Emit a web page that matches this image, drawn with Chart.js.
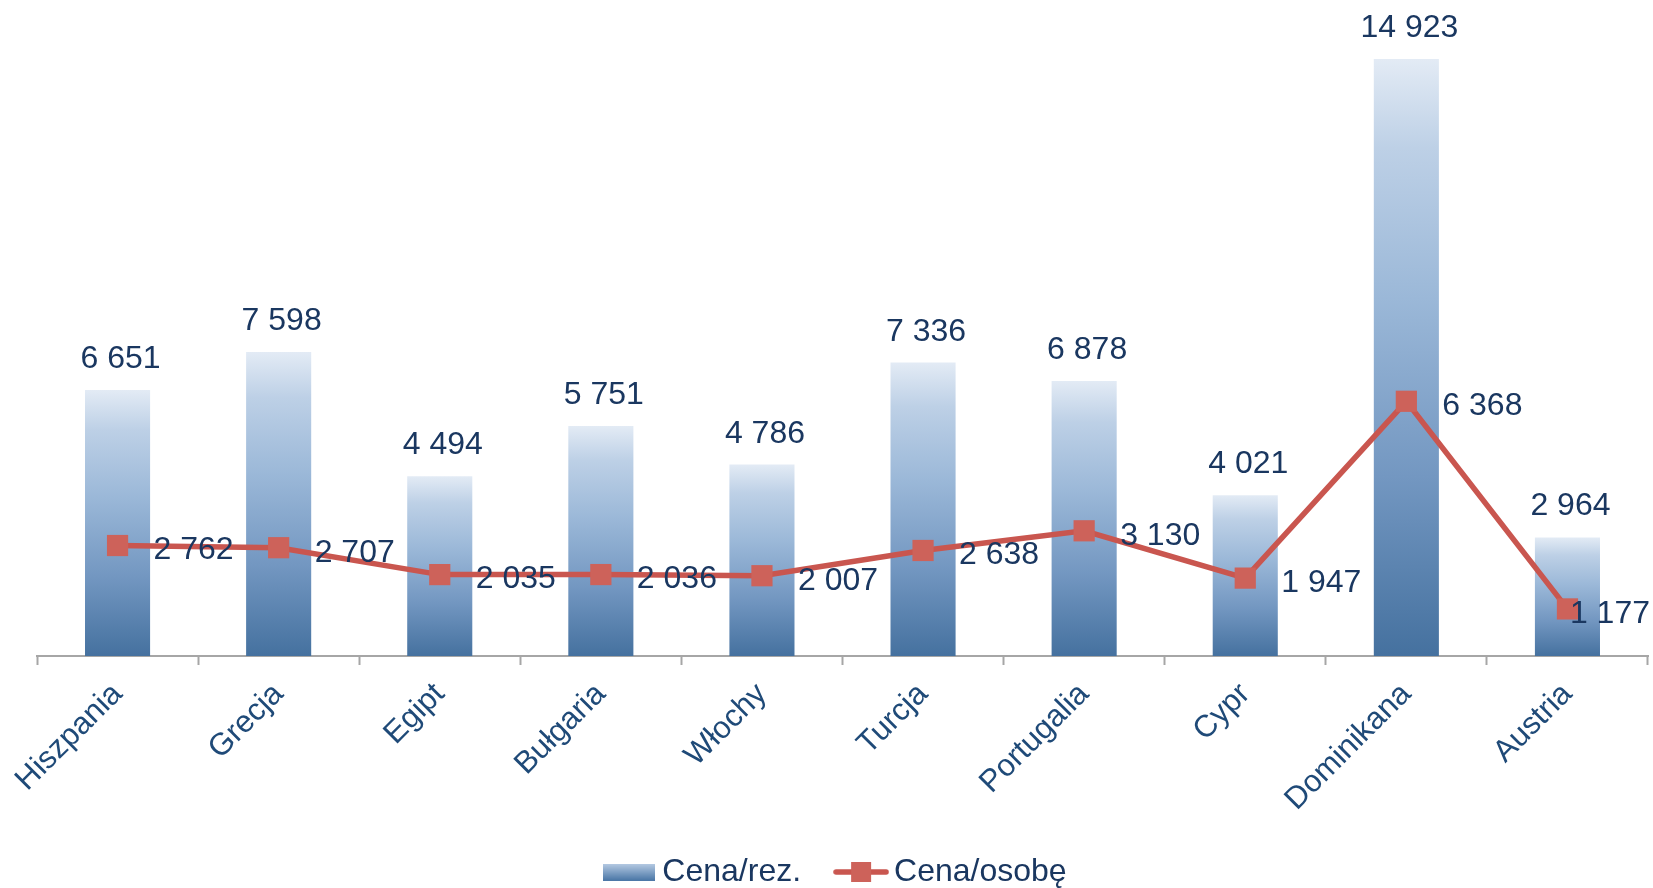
<!DOCTYPE html>
<html>
<head>
<meta charset="utf-8">
<script src="https://cdn.jsdelivr.net/npm/chart.js@4/dist/chart.umd.min.js"></script>
<style>
  html, body { margin: 0; padding: 0; background: #ffffff; }
  #wrap { width: 1653px; height: 888px; position: relative; }
</style>
</head>
<body>
<div id="wrap"><canvas id="c" width="1653" height="888"></canvas></div>
<script>
const categories = ['Hiszpania', 'Grecja', 'Egipt', 'Bułgaria', 'Włochy', 'Turcja', 'Portugalia', 'Cypr', 'Dominikana', 'Austria'];
const cenaRez = [6651, 7598, 4494, 5751, 4786, 7336, 6878, 4021, 14923, 2964];
const cenaOsobe = [2762, 2707, 2035, 2036, 2007, 2638, 3130, 1947, 6368, 1177];
const seriesNames = ['Cena/rez.', 'Cena/osobę'];

const FONT = "'Liberation Sans', Arial, sans-serif";
const LABEL_COLOR = '#1a3760';
const TICK_COLOR = '#1f4a78';
const LINE_COLOR = '#c9564f';
const POINT_COLOR = '#cd625a';
const AXIS_COLOR = '#a6a6a6';

function fmt(v) {
  return String(v).replace(/\B(?=(\d{3})+(?!\d))/g, ' ');
}

function addStops(g) {
  g.addColorStop(0, '#e3ebf5');
  g.addColorStop(0.15, '#bdd0e6');
  g.addColorStop(0.4, '#9bb8d8');
  g.addColorStop(0.7, '#7397c1');
  g.addColorStop(1, '#45719f');
  return g;
}

function barGradient(ctx) {
  const chart = ctx.chart;
  if (!chart.chartArea || ctx.type !== 'data') return '#7f9fc6';
  const y = chart.scales.y;
  const top = y.getPixelForValue(ctx.raw);
  const base = y.getPixelForValue(0);
  return addStops(chart.ctx.createLinearGradient(0, top, 0, base));
}

// legend images
function makeBarIcon() {
  const c = document.createElement('canvas');
  c.width = 52; c.height = 17;
  const x = c.getContext('2d');
  const g = x.createLinearGradient(0, 0, 0, 17);
  g.addColorStop(0, '#b7cbe4');
  g.addColorStop(1, '#4a76a6');
  x.fillStyle = g;
  x.fillRect(0, 0, 52, 17);
  return c;
}
function makeLineIcon() {
  const c = document.createElement('canvas');
  c.width = 56; c.height = 22;
  const x = c.getContext('2d');
  x.strokeStyle = LINE_COLOR;
  x.lineWidth = 5.5;
  x.lineCap = 'round';
  x.beginPath(); x.moveTo(3, 11); x.lineTo(53, 11); x.stroke();
  x.fillStyle = POINT_COLOR;
  x.fillRect(18, 1, 20, 20);
  return c;
}
const barIcon = makeBarIcon();
const lineIcon = makeLineIcon();

const valueLabels = {
  id: 'valueLabels',
  afterLayout(chart) {
    // nudge the legend toward the bottom edge, and let rotated tick labels run below the axis box
    const lg = chart.legend;
    if (lg) { lg.top += 10; lg.bottom += 10; lg.left -= 3; lg.right -= 3; }
    const xs = chart.scales.x;
    if (xs) { xs.bottom += 40; }
  },
  afterDatasetsDraw(chart) {
    const ctx = chart.ctx;
    ctx.save();
    ctx.font = '32px ' + FONT;
    ctx.fillStyle = LABEL_COLOR;
    const m0 = chart.getDatasetMeta(0);
    ctx.textAlign = 'center';
    ctx.textBaseline = 'alphabetic';
    m0.data.forEach((el, i) => {
      ctx.fillText(fmt(cenaRez[i]), el.x + 3, el.y - 22);
    });
    const m1 = chart.getDatasetMeta(1);
    ctx.textAlign = 'left';
    ctx.textBaseline = 'middle';
    m1.data.forEach((el, i) => {
      const t = fmt(cenaOsobe[i]);
      const w = ctx.measureText(t).width;
      let x = el.x + 36;
      if (x + w > chart.width - 3) x = chart.width - 3 - w;
      ctx.fillText(t, x, el.y + 5);
    });
    ctx.restore();
  }
};

new Chart(document.getElementById('c'), {
  type: 'bar',
  data: {
    labels: categories,
    datasets: [
      {
        type: 'bar',
        label: seriesNames[0],
        data: cenaRez,
        backgroundColor: barGradient,
        borderWidth: 0,
        categoryPercentage: 1,
        barPercentage: 0.404,
        order: 2
      },
      {
        type: 'line',
        label: seriesNames[1],
        data: cenaOsobe,
        borderColor: LINE_COLOR,
        borderWidth: 5.5,
        backgroundColor: POINT_COLOR,
        pointStyle: 'rect',
        pointRadius: 15,
        pointHoverRadius: 15,
        pointBackgroundColor: POINT_COLOR,
        pointBorderWidth: 0,
        tension: 0,
        order: 1
      }
    ]
  },
  options: {
    responsive: false,
    animation: false,
    events: [],
    layout: { autoPadding: false, padding: { top: 16, left: 37, right: 5, bottom: 0 } },
    scales: {
      x: {
        offset: true,
        afterFit(scale) {
          scale.paddingLeft = 0;
          scale.paddingRight = 0;
          scale.height = 147;
        },
        grid: {
          offset: true,
          drawOnChartArea: false,
          drawTicks: true,
          tickLength: 9,
          tickWidth: 2,
          tickColor: AXIS_COLOR
        },
        border: { display: true, color: AXIS_COLOR, width: 2 },
        ticks: {
          autoSkip: false,
          maxRotation: 45,
          minRotation: 45,
          padding: 11,
          color: TICK_COLOR,
          font: { family: FONT, size: 31 }
        }
      },
      y: {
        display: false,
        min: 0,
        max: 16000
      }
    },
    plugins: {
      tooltip: { enabled: false },
      legend: {
        position: 'bottom',
        labels: {
          usePointStyle: true,
          pointStyleWidth: 34,
          boxHeight: 22,
          padding: 43,
          color: LABEL_COLOR,
          font: { family: FONT, size: 32 },
          generateLabels() {
            return [
              { text: seriesNames[0], pointStyle: barIcon, fillStyle: 'transparent', strokeStyle: 'transparent', lineWidth: 0, datasetIndex: 0, fontColor: LABEL_COLOR },
              { text: seriesNames[1], pointStyle: lineIcon, fillStyle: 'transparent', strokeStyle: 'transparent', lineWidth: 0, datasetIndex: 1, fontColor: LABEL_COLOR }
            ];
          }
        }
      }
    }
  },
  plugins: [valueLabels]
});
</script>
</body>
</html>
